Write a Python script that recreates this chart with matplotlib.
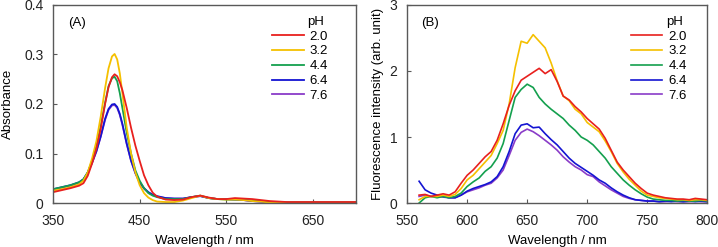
import matplotlib.pyplot as plt

plt.rcParams['font.family'] = ['Liberation Sans', 'DejaVu Sans']

ph_labels = ["2.0", "3.2", "4.4", "6.4", "7.6"]
colors = ["#E8201E", "#F5C000", "#14A04E", "#1414D2", "#8A3CC8"]

# (A) absorbance
wl_abs = [350, 360, 370, 380, 385, 390, 395, 400, 405, 410, 414, 418, 421, 424, 427, 430, 435,
          440, 445, 450, 455, 460, 465, 470, 480, 490, 500, 510, 520, 530, 540, 550,
          560, 570, 580, 590, 600, 620, 650, 700]
abs_20 = [0.022, 0.026, 0.030, 0.035, 0.040, 0.055, 0.080, 0.110, 0.150, 0.200, 0.234, 0.254,
          0.260, 0.256, 0.244, 0.228, 0.192, 0.152, 0.116, 0.085, 0.056, 0.036, 0.021, 0.013,
          0.007, 0.006, 0.007, 0.012, 0.015, 0.011, 0.008, 0.008, 0.010, 0.009, 0.008, 0.006,
          0.004, 0.002, 0.002, 0.002]
abs_32 = [0.025, 0.028, 0.032, 0.038, 0.045, 0.062, 0.090, 0.125, 0.175, 0.232, 0.272, 0.296,
          0.301, 0.290, 0.262, 0.222, 0.152, 0.100, 0.062, 0.036, 0.020, 0.011, 0.006, 0.003,
          0.002, 0.002, 0.005, 0.010, 0.015, 0.010, 0.008, 0.007, 0.007, 0.006, 0.004, 0.003,
          0.001, 0.001, 0.001, 0.001]
abs_44 = [0.028, 0.032, 0.036, 0.042, 0.048, 0.062, 0.085, 0.115, 0.155, 0.202, 0.236, 0.252,
          0.255, 0.246, 0.222, 0.192, 0.142, 0.100, 0.066, 0.045, 0.030, 0.020, 0.015, 0.012,
          0.008, 0.008, 0.008, 0.012, 0.015, 0.010, 0.008, 0.007, 0.007, 0.007, 0.005, 0.004,
          0.002, 0.001, 0.001, 0.001]
abs_64 = [0.028, 0.032, 0.036, 0.042, 0.048, 0.062, 0.082, 0.105, 0.135, 0.170, 0.190, 0.199,
          0.200, 0.194, 0.180, 0.160, 0.120, 0.086, 0.061, 0.042, 0.030, 0.022, 0.017, 0.014,
          0.010, 0.009, 0.009, 0.012, 0.014, 0.010, 0.008, 0.008, 0.007, 0.006, 0.004, 0.003,
          0.002, 0.001, 0.001, 0.001]
abs_76 = [0.027, 0.031, 0.035, 0.041, 0.047, 0.061, 0.081, 0.104, 0.134, 0.168, 0.188, 0.197,
          0.198, 0.192, 0.178, 0.158, 0.119, 0.085, 0.060, 0.041, 0.029, 0.021, 0.016, 0.013,
          0.010, 0.009, 0.009, 0.012, 0.014, 0.010, 0.008, 0.008, 0.007, 0.006, 0.004, 0.003,
          0.002, 0.001, 0.001, 0.001]

# (B) fluorescence
wl_fl = [560, 565, 570, 575, 580, 585, 590, 595, 600, 605, 610, 615, 620, 625, 630, 635,
         640, 645, 650, 655, 660, 665, 670, 675, 680, 685, 690, 695, 700, 705, 710, 715,
         720, 725, 730, 735, 740, 745, 750, 755, 760, 765, 770, 775, 780, 785, 790, 795, 800]
fl_20 = [0.12, 0.13, 0.10, 0.12, 0.14, 0.12, 0.17, 0.30, 0.42, 0.50, 0.60, 0.70, 0.78, 0.95,
         1.20, 1.48, 1.70, 1.86, 1.92, 1.98, 2.04, 1.96, 2.02, 1.84, 1.62, 1.56, 1.46, 1.38,
         1.28, 1.20, 1.12, 0.98, 0.80, 0.62, 0.50, 0.40, 0.30, 0.22, 0.15, 0.12, 0.10, 0.08,
         0.07, 0.06, 0.06, 0.05, 0.07, 0.06, 0.05]
fl_32 = [0.05, 0.10, 0.10, 0.10, 0.12, 0.10, 0.13, 0.22, 0.35, 0.42, 0.52, 0.62, 0.72, 0.90,
         1.10, 1.50, 2.05, 2.45, 2.42, 2.55, 2.45, 2.35, 2.12, 1.85, 1.62, 1.55, 1.42, 1.35,
         1.22, 1.15, 1.08, 0.94, 0.78, 0.60, 0.47, 0.36, 0.27, 0.18, 0.12, 0.10, 0.08, 0.07,
         0.06, 0.05, 0.05, 0.04, 0.05, 0.05, 0.04]
fl_44 = [0.00, 0.08, 0.10, 0.08, 0.10, 0.08, 0.10, 0.15, 0.25, 0.32, 0.38, 0.48, 0.55, 0.68,
         0.90, 1.25, 1.60, 1.72, 1.80, 1.75, 1.60, 1.50, 1.42, 1.35, 1.28, 1.18, 1.10, 1.00,
         0.95, 0.88, 0.78, 0.68, 0.55, 0.45, 0.35, 0.27, 0.20, 0.14, 0.09, 0.06, 0.05, 0.04,
         0.04, 0.03, 0.04, 0.03, 0.03, 0.04, 0.03]
fl_64 = [0.33, 0.20, 0.15, 0.12, 0.10, 0.08, 0.08, 0.12, 0.18, 0.22, 0.25, 0.28, 0.32, 0.40,
         0.55, 0.78, 1.05, 1.18, 1.20, 1.14, 1.15, 1.05, 0.96, 0.88, 0.78, 0.68, 0.60, 0.54,
         0.48, 0.42, 0.35, 0.30, 0.23, 0.17, 0.12, 0.08, 0.05, 0.04, 0.03, 0.03, 0.02, 0.03,
         0.02, 0.03, 0.02, 0.03, 0.02, 0.03, 0.02]
fl_76 = [0.10, 0.12, 0.10, 0.10, 0.09, 0.08, 0.08, 0.12, 0.17, 0.20, 0.23, 0.27, 0.30, 0.38,
         0.50, 0.72, 0.95, 1.07, 1.12, 1.08, 1.02, 0.95, 0.88, 0.80, 0.70, 0.62, 0.55, 0.50,
         0.43, 0.40, 0.32, 0.26, 0.20, 0.15, 0.10, 0.07, 0.05, 0.04, 0.03, 0.03, 0.02, 0.02,
         0.03, 0.02, 0.02, 0.02, 0.03, 0.02, 0.02]

abs_series = [abs_20, abs_32, abs_44, abs_64, abs_76]
fl_series = [fl_20, fl_32, fl_44, fl_64, fl_76]

fig = plt.figure(figsize=(7.18, 2.47), dpi=100)
axA = fig.add_axes([0.074, 0.178, 0.422, 0.802])
axB = fig.add_axes([0.567, 0.178, 0.418, 0.802])


def style(ax):
    for s in ax.spines.values():
        s.set_color("#595959")
        s.set_linewidth(1.0)
    ax.tick_params(direction="in", length=3, color="#595959", labelsize=10,
                   labelcolor="#222222")
    ax.tick_params(axis="x", pad=8)
    ax.tick_params(axis="y", pad=7)


def add_legend(ax, lines, x0, ph_x):
    ax.legend(lines, ph_labels, loc="upper left", bbox_to_anchor=(x0, 0.872),
              frameon=False, fontsize=9.5, handlelength=2.4, handletextpad=0.45,
              labelspacing=0.2, borderpad=0, borderaxespad=0)
    ax.text(ph_x, 0.915, "pH", transform=ax.transAxes, fontsize=9.5, va="center")


# draw last series first so pH 2.0 ends up on top
linesA = [None] * 5
linesB = [None] * 5
for i in range(4, -1, -1):
    linesA[i], = axA.plot(wl_abs, abs_series[i], color=colors[i], lw=1.3)
    linesB[i], = axB.plot(wl_fl, fl_series[i], color=colors[i], lw=1.2)

axA.set_xlim(350, 700)
axA.set_ylim(0, 0.4)
axA.set_xticks([350, 450, 550, 650])
axA.set_yticks([0, 0.1, 0.2, 0.3, 0.4])
axA.set_yticklabels(["0", "0.1", "0.2", "0.3", "0.4"])
axA.set_xlabel("Wavelength / nm", fontsize=9.5, labelpad=5)
axA.set_ylabel("Absorbance", fontsize=9.5, labelpad=7)
axA.text(0.05, 0.91, "(A)", transform=axA.transAxes, fontsize=9.5, va="center")
style(axA)
add_legend(axA, linesA, 0.722, 0.84)

axB.set_xlim(550, 800)
axB.set_ylim(0, 3)
axB.set_xticks([550, 600, 650, 700, 750, 800])
axB.set_yticks([0, 1, 2, 3])
axB.set_xlabel("Wavelength / nm", fontsize=9.5, labelpad=5)
axB.set_ylabel("Fluorescence intensity (arb. unit)", fontsize=9.5, labelpad=4)
axB.text(0.047, 0.91, "(B)", transform=axB.transAxes, fontsize=9.5, va="center")
style(axB)
add_legend(axB, linesB, 0.745, 0.862)

fig.savefig("out.png", dpi=100)
